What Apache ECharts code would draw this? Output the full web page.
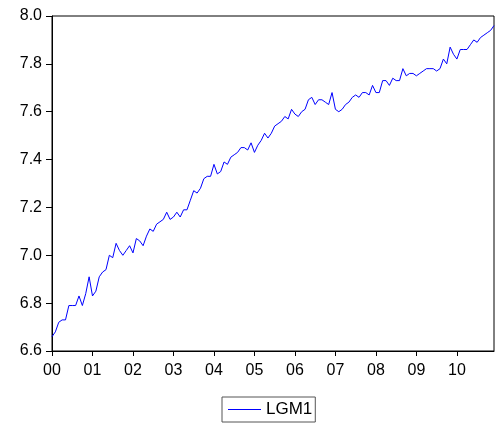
<!DOCTYPE html>
<html>
<head>
<meta charset="utf-8">
<script src="https://cdn.jsdelivr.net/npm/echarts@6/dist/echarts.min.js"></script>
<style>
  html, body { margin: 0; padding: 0; background: #fff; }
  #chart { width: 496px; height: 428px; }
</style>
</head>
<body>
<div id="chart"></div>
<script>
// Monthly series, January 2000 through December 2010
const years = ['00', '01', '02', '03', '04', '05', '06', '07', '08', '09', '10'];
const seriesName = 'LGM1';
const lgm1 = [
  6.66, 6.68, 6.72, 6.73, 6.73, 6.79, 6.79, 6.79, 6.83, 6.79, 6.84, 6.91,
  6.83, 6.85, 6.91, 6.93, 6.94, 7.00, 6.99, 7.05, 7.02, 7.00, 7.02, 7.04,
  7.01, 7.07, 7.06, 7.04, 7.08, 7.11, 7.10, 7.13, 7.14, 7.15, 7.18, 7.15,
  7.16, 7.18, 7.16, 7.19, 7.19, 7.23, 7.27, 7.26, 7.28, 7.32, 7.33, 7.33,
  7.38, 7.34, 7.35, 7.39, 7.38, 7.41, 7.42, 7.43, 7.45, 7.45, 7.44, 7.47,
  7.43, 7.46, 7.48, 7.51, 7.49, 7.51, 7.54, 7.55, 7.56, 7.58, 7.57, 7.61,
  7.59, 7.58, 7.60, 7.61, 7.65, 7.66, 7.63, 7.65, 7.65, 7.64, 7.63, 7.68,
  7.61, 7.60, 7.61, 7.63, 7.64, 7.66, 7.67, 7.66, 7.68, 7.68, 7.67, 7.71,
  7.68, 7.68, 7.73, 7.73, 7.71, 7.74, 7.73, 7.73, 7.78, 7.75, 7.76, 7.76,
  7.75, 7.76, 7.77, 7.78, 7.78, 7.78, 7.77, 7.78, 7.82, 7.80, 7.87, 7.84,
  7.82, 7.86, 7.86, 7.86, 7.88, 7.90, 7.89, 7.91, 7.92, 7.93, 7.94, 7.96
];
const yTicks = { min: 6.6, max: 8.0, step: 0.2 };

// One category per month; the year label sits on January
const months = [];
years.forEach(y => { for (let m = 1; m <= 12; m++) months.push(y + 'M' + m); });

const font = 'Liberation Sans, Arial, Helvetica, sans-serif';
const chart = echarts.init(document.getElementById('chart'), null, { renderer: 'canvas' });
chart.setOption({
  animation: false,
  backgroundColor: '#ffffff',
  grid: {
    left: 52, right: 2, top: 16, bottom: 77,
    show: true, borderColor: '#000', borderWidth: 1, backgroundColor: 'transparent'
  },
  xAxis: {
    type: 'category',
    data: months,
    boundaryGap: false,
    axisLine: { lineStyle: { color: '#000', width: 1 } },
    axisTick: { show: true, interval: i => i % 12 === 0, length: 5, lineStyle: { color: '#000' } },
    axisLabel: {
      interval: i => i % 12 === 0,
      formatter: v => v.slice(0, 2),
      color: '#000', fontFamily: font, fontSize: 16, margin: 12
    },
    splitLine: { show: false }
  },
  yAxis: {
    type: 'value',
    min: yTicks.min, max: yTicks.max, interval: yTicks.step,
    axisLine: { show: true, lineStyle: { color: '#000', width: 1 } },
    axisTick: { show: true, length: 6, lineStyle: { color: '#000' } },
    axisLabel: {
      formatter: v => v.toFixed(1),
      color: '#000', fontFamily: font, fontSize: 16, margin: 10
    },
    splitLine: { show: false }
  },
  legend: {
    top: 397, left: 222,
    data: [seriesName],
    icon: 'rect',
    itemWidth: 33, itemHeight: 1, itemGap: 6,
    borderColor: '#555', borderWidth: 1, borderRadius: 0,
    padding: [4, 3, 4, 6],
    textStyle: { color: '#000', fontFamily: font, fontSize: 17 }
  },
  series: [{
    name: seriesName,
    type: 'line',
    data: lgm1,
    showSymbol: false,
    symbol: 'none',
    lineStyle: { color: '#0000ff', width: 1 },
    itemStyle: { color: '#0000ff' }
  }]
});
</script>
</body>
</html>
